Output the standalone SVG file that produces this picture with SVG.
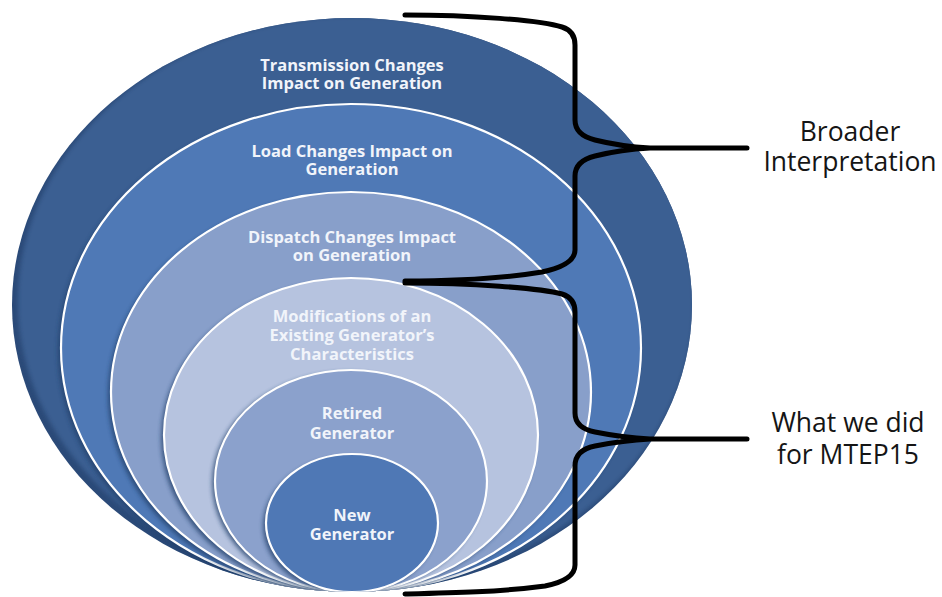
<svg xmlns="http://www.w3.org/2000/svg" width="942" height="597" viewBox="0 0 942 597">
  <defs>
    <style>
      .lbl { font-family: "Open Sans", "Liberation Sans", sans-serif; font-weight: 700; font-size: 16.5px; fill: #f1f4fa; text-anchor: middle; }
      .side { font-family: "Open Sans", "Liberation Sans", sans-serif; font-weight: 400; font-size: 26.5px; fill: #151515; text-anchor: middle; }
      .ring { stroke: #ffffff; stroke-width: 2.2; }
      .shade { fill: #23406b; opacity: 0.75; filter: url(#soft); }
      .brace { fill: none; stroke: #000000; stroke-width: 5; stroke-linecap: round; stroke-linejoin: round; }
    </style>
    <filter id="soft" x="-10%" y="-10%" width="120%" height="120%">
      <feGaussianBlur stdDeviation="2"/>
    </filter>
    <clipPath id="outerClip">
      <ellipse cx="352" cy="305" rx="340" ry="287"/>
    </clipPath>
  </defs>

  <rect width="942" height="597" fill="#ffffff"/>

  <!-- outermost ring with a darker lower-left rim -->
  <g id="node-transmission">
    <ellipse cx="352" cy="305" rx="340" ry="287" fill="#2b4a78"/>
    <g clip-path="url(#outerClip)">
      <ellipse cx="356" cy="301" rx="338" ry="285" fill="#3a5f92" filter="url(#soft)"/>
    </g>
    <text class="lbl" x="352" y="71">Transmission Changes<tspan x="352" dy="18">Impact on Generation</tspan></text>
  </g>

  <g id="node-load" clip-path="url(#outerClip)">
    <ellipse class="shade" cx="348" cy="351" rx="290" ry="244"/>
    <ellipse class="ring" cx="351" cy="348" rx="290" ry="244" fill="#4f79b6"/>
    <text class="lbl" x="352" y="157">Load Changes Impact on<tspan x="352" dy="18">Generation</tspan></text>
  </g>

  <g id="node-dispatch" clip-path="url(#outerClip)">
    <ellipse class="shade" cx="348" cy="395" rx="240" ry="200"/>
    <ellipse class="ring" cx="351" cy="392" rx="240" ry="200" fill="#889fca"/>
    <text class="lbl" x="352" y="243">Dispatch Changes Impact<tspan x="352" dy="18">on Generation</tspan></text>
  </g>

  <g id="node-modifications" clip-path="url(#outerClip)">
    <ellipse class="shade" cx="348" cy="438" rx="187" ry="157"/>
    <ellipse class="ring" cx="351" cy="435" rx="187" ry="157" fill="#b6c3df"/>
    <text class="lbl" x="352" y="322">Modifications of an<tspan x="352" dy="19">Existing Generator’s</tspan><tspan x="352" dy="19">Characteristics</tspan></text>
  </g>

  <g id="node-retired" clip-path="url(#outerClip)">
    <ellipse class="shade" cx="348" cy="483" rx="136" ry="111"/>
    <ellipse class="ring" cx="351" cy="481" rx="136" ry="111" fill="#8ba1cc"/>
    <text class="lbl" x="352" y="419">Retired<tspan x="352" dy="20">Generator</tspan></text>
  </g>

  <g id="node-new" clip-path="url(#outerClip)">
    <ellipse class="shade" cx="349" cy="526" rx="86" ry="69"/>
    <ellipse class="ring" cx="352" cy="523" rx="86" ry="69" fill="#4f78b5"/>
    <text class="lbl" x="352" y="521">New<tspan x="352" dy="19">Generator</tspan></text>
  </g>

  <!-- braces grouping the rings -->
  <g id="connectors">
    <path class="brace" d="M405,15 C470,15 540,20 562,27 Q575,31 575,45 V120 Q575,135 595,140 C615,145 630,147 650,148 L747,148 M650,148 C630,149 615,151 595,156 Q575,161 575,176 V250 Q575,265 542,272 C500,279 450,281 405,281"/>
    <path class="brace" d="M405,283 C470,283 540,288 562,294 Q575,298 575,312 V413 Q575,428 595,432 C615,436 630,438 650,439 L747,439 M650,439 C630,440 615,442 595,446 Q575,450 575,466 V565 Q575,580 545,586 C500,592 450,593 405,594"/>
  </g>

  <g id="label-broader">
    <text class="side" x="850" y="141">Broader<tspan x="850" dy="30">Interpretation</tspan></text>
  </g>
  <g id="label-mtep15">
    <text class="side" x="848" y="432">What we did<tspan x="848" dy="32">for MTEP15</tspan></text>
  </g>
</svg>
